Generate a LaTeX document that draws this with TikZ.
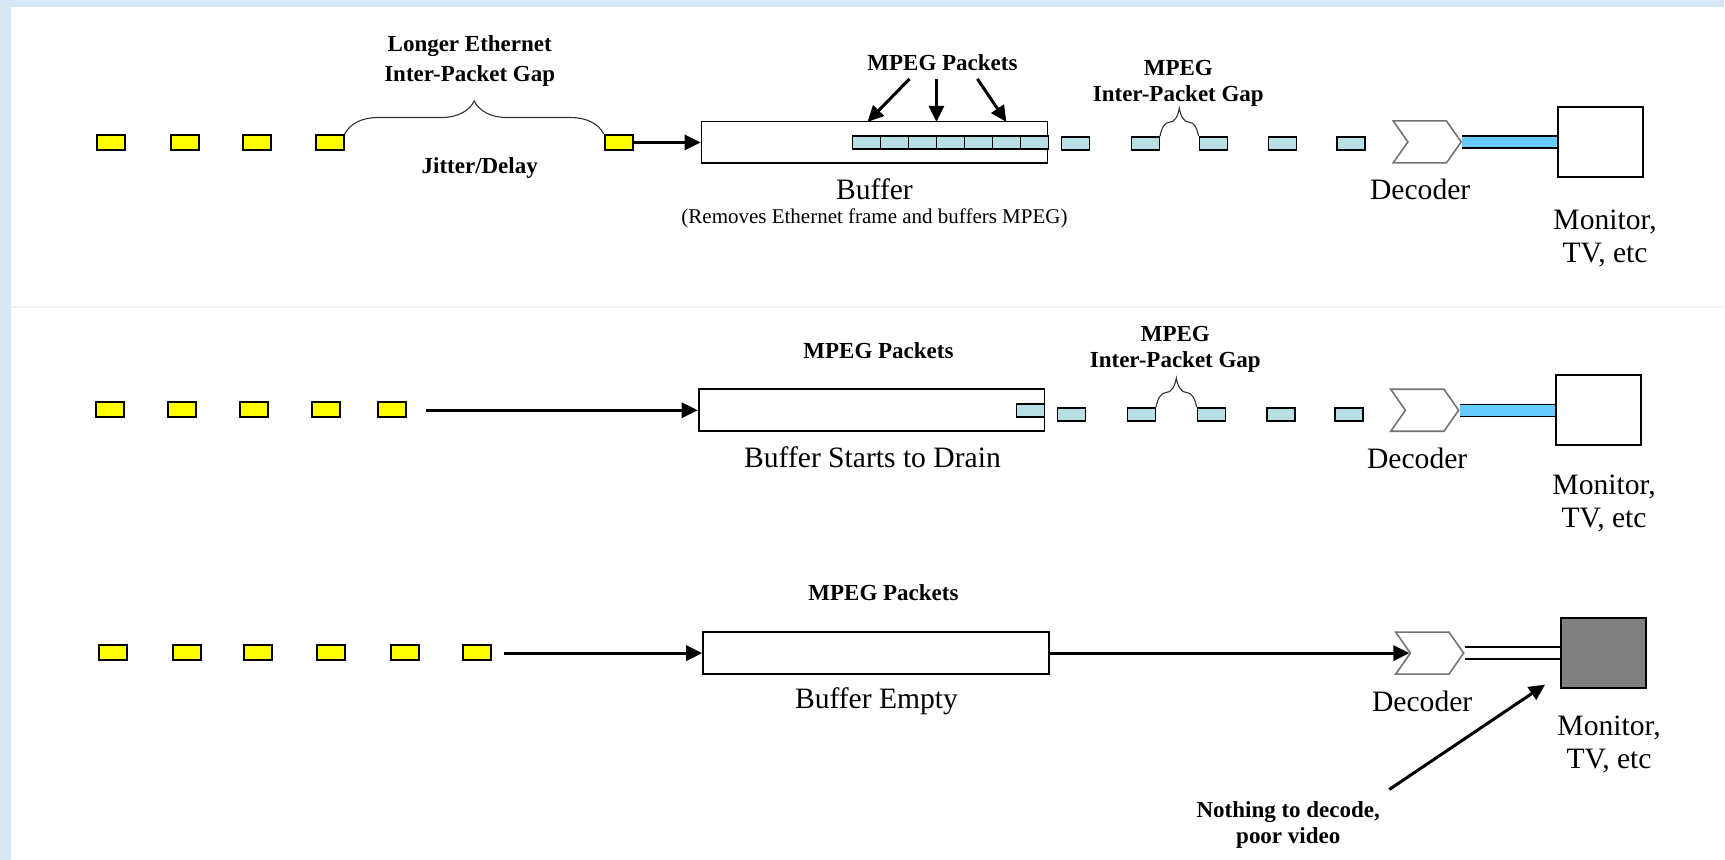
\documentclass[tikz,border=0pt]{standalone}
\usepackage{fontspec}
\setmainfont{Liberation Serif}
\usetikzlibrary{arrows.meta,shapes.symbols,decorations.pathreplacing,calc}
\definecolor{bgblue}{HTML}{D8E7F5}
\definecolor{pktyellow}{HTML}{FFFF00}
\definecolor{pktblue}{HTML}{B8DFE3}
\definecolor{barblue}{HTML}{66CCFF}
\definecolor{monigray}{HTML}{808080}
\definecolor{sepline}{HTML}{EDF2F8}
\newcommand\lblfont{\fontsize{11.5}{13}\selectfont\bfseries}
\newcommand\txtfont{\fontsize{14.8}{16.5}\selectfont}
\newcommand\smallfont{\fontsize{10.5}{12}\selectfont}
\begin{document}
\begin{tikzpicture}[x=0.5pt,y=-0.5pt,
 ypkt/.style={draw=black,fill=pktyellow,line width=0.9pt,minimum width=14pt,minimum height=7.5pt,inner sep=0pt},
 mpkt/.style={draw=black,fill=pktblue,line width=0.75pt,minimum width=14pt,minimum height=6.5pt,inner sep=0pt},
 bufbox/.style={draw=black,fill=white,line width=0.9pt,minimum width=173pt,minimum height=21pt,inner sep=0pt},
 decbox/.style={signal,signal from=west,signal to=east,signal pointer angle=110,draw=black!55,fill=white,line width=0.8pt,minimum width=34pt,minimum height=21pt,inner sep=0pt},
 monbox/.style={draw=black,line width=1pt,minimum width=42.5pt,minimum height=35pt,inner sep=0pt},
 flow/.style={line width=1.5pt,-{Triangle[length=8pt,width=7.5pt]}},
 lbl/.style={font=\lblfont,align=center,inner sep=0pt},
 txt/.style={font=\txtfont,align=center,inner sep=0pt},
 gapbrace/.style={decorate,decoration={brace,amplitude=#1},draw=black!80,line width=0.55pt},
 bluebar/.style={double=barblue,double distance=5.3pt,line width=0.7pt},
 whitebar/.style={double=white,double distance=5.3pt,line width=0.7pt},
]
% background
\fill[bgblue] (0,0) rectangle (1725,860);
\fill[white] (11,7) rectangle (1725,860);
\draw[sepline,line width=1pt] (11,307) -- (1725,307);
\useasboundingbox (0,0) rectangle (1725,860);

% ================= Row 1 =================
\node[ypkt] (a1) at (111,142.5) {};
\node[ypkt] (a2) at (185,142.5) {};
\node[ypkt] (a3) at (257,142.5) {};
\node[ypkt] (a4) at (330,142.5) {};
\node[ypkt] (a5) at (619,142.5) {};
\draw[gapbrace=16.5pt] (a4.north east) -- (a5.north west);
\node[lbl,font=\fontsize{11.5}{15}\selectfont\bfseries] (longer) at (470,61) {Longer Ethernet\\Inter-Packet Gap};
\node[lbl] (jitter) at (480,168) {Jitter/Delay};

\node[bufbox] (buf1) at (875,142.5) {};
\draw[flow] (a5.east) -- (buf1.west);
\foreach \i/\x in {1/867,2/895,3/923,4/951,5/979,6/1007,7/1035}
  \node[mpkt] (in1\i) at (\x,142.5) {};
\node[lbl] (mp1) at (943,63) {MPEG Packets};
\coordinate (t1a) at (910,79);
\coordinate (t1b) at (937,79);
\coordinate (t1c) at (978,79);
\coordinate (h1a) at (868,122);
\coordinate (h1b) at (937,122);
\coordinate (h1c) at (1007,122);
\draw[flow] (t1a) -- (h1a);
\draw[flow] (t1b) -- (h1b);
\draw[flow] (t1c) -- (h1c);
\node[txt] (buflbl1) at (875,189) {Buffer};
\node[font=\smallfont,inner sep=0pt] (bufsub1) at (875,218) {(Removes Ethernet frame and buffers MPEG)};

\node[mpkt] (b1) at (1076,143.5) {};
\node[mpkt] (b2) at (1146,143.5) {};
\node[mpkt] (b3) at (1214,143.5) {};
\node[mpkt] (b4) at (1283,143.5) {};
\node[mpkt] (b5) at (1352,143.5) {};
\draw[gapbrace=14pt] (b2.north east) -- (b3.north west);
\node[lbl] (gap1) at (1179,83) {MPEG\\Inter-Packet Gap};

\node[decbox] (dec1) at (1428,142) {};
\node[txt] (declbl1) at (1421,189) {Decoder};
\node[monbox,fill=white] (mon1) at (1601.5,142) {};
\draw[bluebar] (dec1.east) -- (mon1.west);
\node[txt] (monlbl1) at (1606,239) {Monitor,\\TV, etc};

% ================= Row 2 =================
\node[ypkt] (c1) at (110,410) {};
\node[ypkt] (c2) at (182,410) {};
\node[ypkt] (c3) at (254,410) {};
\node[ypkt] (c4) at (326,410) {};
\node[ypkt] (c5) at (392,410) {};
\coordinate (s2) at (426,410.5);
\node[bufbox] (buf2) at (872,410.5) {};
\draw[flow] (s2) -- (buf2.west);
\node[mpkt] (in21) at (1031,410.5) {};
\node[lbl] (mp2) at (879,351) {MPEG Packets};
\node[txt] (buflbl2) at (873,457) {Buffer Starts to Drain};

\node[mpkt] (d1) at (1072,414.5) {};
\node[mpkt] (d2) at (1142,414.5) {};
\node[mpkt] (d3) at (1212,414.5) {};
\node[mpkt] (d4) at (1281.5,414.5) {};
\node[mpkt] (d5) at (1350,414.5) {};
\draw[gapbrace=14.5pt] (d2.north east) -- (d3.north west);
\node[lbl] (gap2) at (1176,350) {MPEG\\Inter-Packet Gap};

\node[decbox] (dec2) at (1425.5,410.5) {};
\node[txt] (declbl2) at (1418,459) {Decoder};
\node[monbox,fill=white] (mon2) at (1599,410.5) {};
\draw[bluebar] (dec2.east) -- (mon2.west);
\node[txt] (monlbl2) at (1605,504) {Monitor,\\TV, etc};

% ================= Row 3 =================
\node[ypkt] (e1) at (113,653) {};
\node[ypkt] (e2) at (187,653) {};
\node[ypkt] (e3) at (258,653) {};
\node[ypkt] (e4) at (331,653) {};
\node[ypkt] (e5) at (405,653) {};
\node[ypkt] (e6) at (477,653) {};
\coordinate (s3) at (504,653.5);
\node[bufbox] (buf3) at (876.5,653.5) {};
\draw[flow] (s3) -- (buf3.west);
\node[lbl] (mp3) at (884,593) {MPEG Packets};
\node[txt] (buflbl3) at (877,702) {Buffer Empty};

\node[decbox] (dec3) at (1430.5,653.5) {};
\draw[flow] (buf3.east) -- (dec3.west);
\node[txt] (declbl3) at (1423,702) {Decoder};
\node[monbox,fill=monigray] (mon3) at (1604,653.5) {};
\draw[whitebar] (dec3.east) -- (mon3.west);
\node[txt] (monlbl3) at (1610,745) {Monitor,\\TV, etc};

\node[lbl] (noth) at (1289,825) {Nothing to decode,\\poor video};
\coordinate (nt) at (1390,790);
\coordinate (nh) at (1546,685);
\draw[flow] (nt) -- (nh);
\end{tikzpicture}
\end{document}
